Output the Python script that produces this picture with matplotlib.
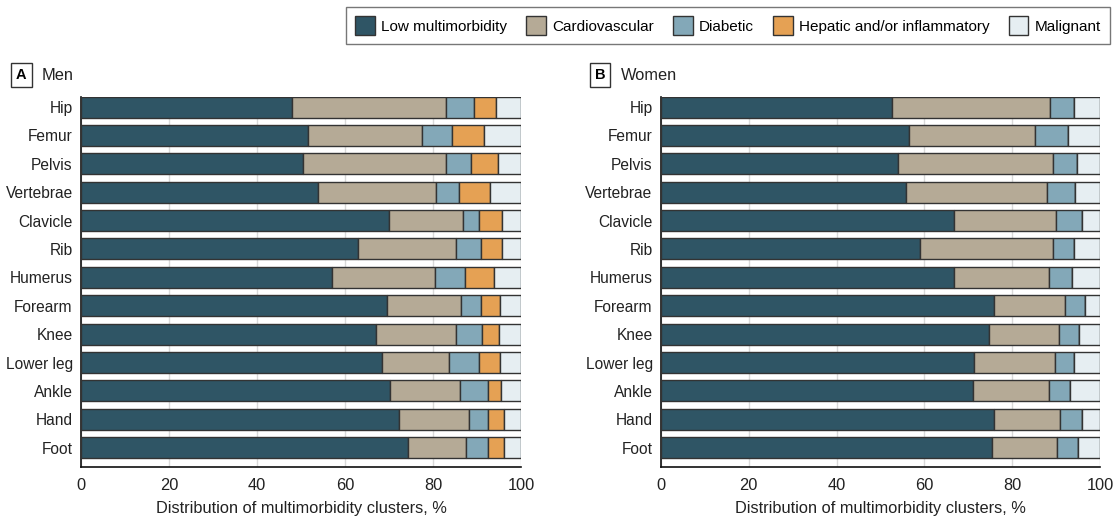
import matplotlib.pyplot as plt
import numpy as np
from matplotlib.patches import Patch

plt.rcParams['font.family'] = ['Liberation Sans', 'DejaVu Sans']

sites = ['Hip', 'Femur', 'Pelvis', 'Vertebrae', 'Clavicle', 'Rib', 'Humerus',
         'Forearm', 'Knee', 'Lower leg', 'Ankle', 'Hand', 'Foot']
clusters = ['Low multimorbidity', 'Cardiovascular', 'Diabetic',
            'Hepatic and/or inflammatory', 'Malignant']
colors = ['#2f5565', '#b5aa96', '#83a8b8', '#e5a154', '#e6eef2']

# men, % per cluster
men_low = [47.9, 51.6, 50.4, 53.9, 70.0, 62.9, 57.0, 69.5, 67.0, 68.4, 70.2, 72.2, 74.2]
men_cardio = [35.0, 25.8, 32.6, 26.8, 16.9, 22.3, 23.4, 16.8, 18.2, 15.3, 15.9, 16.0, 13.3]
men_diab = [6.4, 6.8, 5.6, 5.1, 3.5, 5.6, 6.8, 4.5, 5.9, 6.7, 6.5, 4.4, 4.9]
men_hep = [4.9, 7.3, 6.1, 7.1, 5.2, 4.8, 6.6, 4.5, 3.8, 4.9, 2.9, 3.6, 3.8]
men_mal = [5.8, 8.5, 5.3, 7.1, 4.4, 4.4, 6.2, 4.7, 5.1, 4.7, 4.5, 3.8, 3.8]

# women
women_low = [52.6, 56.5, 54.0, 55.9, 66.7, 59.0, 66.7, 75.8, 74.7, 71.4, 71.1, 75.9, 75.3]
women_cardio = [36.0, 28.8, 35.4, 32.0, 23.4, 30.2, 21.6, 16.3, 15.9, 18.3, 17.4, 15.1, 15.0]
women_diab = [5.4, 7.5, 5.3, 6.4, 5.9, 4.8, 5.4, 4.5, 4.6, 4.3, 4.6, 4.8, 4.8]
women_hep = [0, 0, 0, 0, 0, 0, 0, 0, 0, 0, 0, 0, 0]
women_mal = [6.0, 7.2, 5.3, 5.7, 4.0, 6.0, 6.3, 3.4, 4.8, 6.0, 6.9, 4.2, 4.9]

men = [men_low, men_cardio, men_diab, men_hep, men_mal]
women = [women_low, women_cardio, women_diab, women_hep, women_mal]

fig = plt.figure(figsize=(11.15, 5.17), dpi=100)
ax1 = fig.add_axes([0.0727, 0.0973, 0.3946, 0.716])
ax2 = fig.add_axes([0.5928, 0.0973, 0.3937, 0.716])

y = np.arange(len(sites))
edge = '#333333'

for ax, data, letter, title, lx, tx in [(ax1, men, 'A', 'Men', -0.136, -0.089),
                                        (ax2, women, 'B', 'Women', -0.139, -0.092)]:
    left = np.zeros(len(sites))
    for vals, c in zip(data, colors):
        vals = np.array(vals)
        ax.barh(y, vals, left=left, height=0.74, color=c, edgecolor=edge,
                linewidth=1.0, zorder=3)
        left += vals
    ax.set_xlim(0, 100)
    ax.set_ylim(12.67, -0.37)
    ax.set_yticks(y)
    ax.set_yticklabels(sites, fontsize=11.2, color='#222222')
    ax.set_xticks([0, 20, 40, 60, 80, 100])
    ax.tick_params(axis='x', labelsize=11.8, length=0, pad=8, labelcolor='#222222')
    ax.tick_params(axis='y', length=0, pad=6)
    ax.set_xticks([0, 100], minor=True)
    ax.tick_params(axis='x', which='minor', length=5, width=1.2, color='#111111')
    ax.grid(axis='x', color='#d9d9d9', linewidth=1, zorder=0)
    for s in ['top', 'right']:
        ax.spines[s].set_visible(False)
    for s in ['left', 'bottom']:
        ax.spines[s].set_color('#111111')
        ax.spines[s].set_linewidth(1.2)
    ax.set_xlabel('Distribution of multimorbidity clusters, %', fontsize=11.8,
                  color='#222222', labelpad=6)
    ax.text(lx, 1.058, letter, transform=ax.transAxes,
            fontsize=10.5, fontweight='bold', ha='center', va='center',
            bbox=dict(boxstyle='square,pad=0.35', fc='white', ec='#333333', lw=1))
    ax.text(tx, 1.058, title, transform=ax.transAxes,
            fontsize=11.8, ha='left', va='center', color='#222222')

handles = [Patch(facecolor=c, edgecolor=edge, linewidth=1) for c in colors]
leg = fig.legend(handles, clusters, loc='upper right', bbox_to_anchor=(0.9955, 0.986),
                 ncol=5, frameon=True, fancybox=False, edgecolor='#555555',
                 fontsize=11, handlelength=1.3, handleheight=1.5, columnspacing=1.25,
                 handletextpad=0.4, borderpad=0.6, borderaxespad=0)
leg.get_frame().set_linewidth(1)

fig.savefig('out.png', dpi=100)
